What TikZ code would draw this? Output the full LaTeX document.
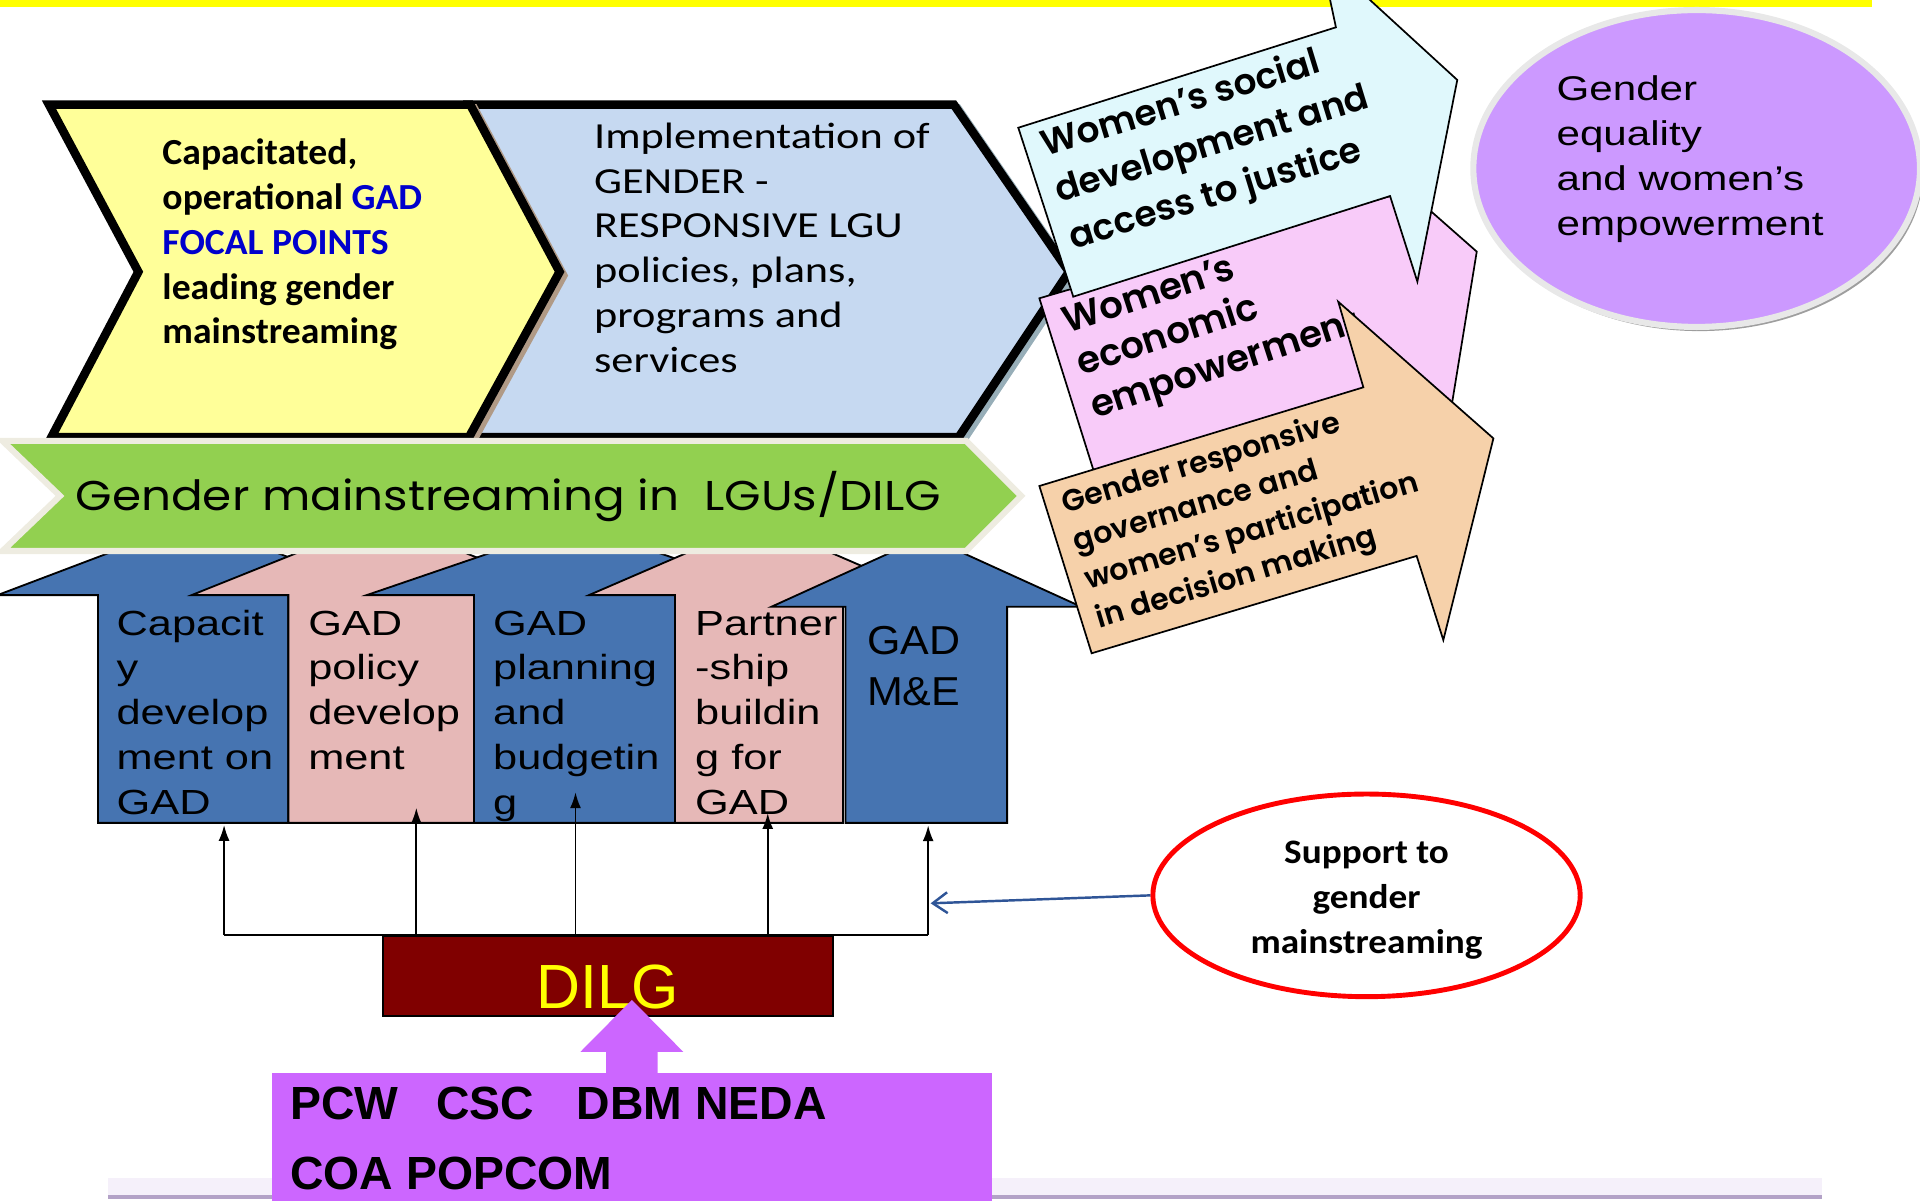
\documentclass[tikz,border=0pt]{standalone}
\usepackage{fontspec}
\usepackage{graphicx}
\usetikzlibrary{shapes.geometric,arrows.meta,calc}
\newfontfamily\carlito{Carlito}
\newfontfamily\libsans{Liberation Sans}
\newfontfamily\popp{Poppins}
\newfontfamily\poppsb{Poppins SemiBold}
\definecolor{topyellow}{HTML}{FFFF00}
\definecolor{chevyellow}{HTML}{FFFF99}
\definecolor{chevblue}{HTML}{C6D9F1}
\definecolor{yelshade}{HTML}{B09A86}
\definecolor{blueshade}{HTML}{97AEB8}
\definecolor{bandgreen}{HTML}{92D050}
\definecolor{bandedge}{HTML}{EEECE1}
\definecolor{colblue}{HTML}{4674B1}
\definecolor{colpink}{HTML}{E6B8B7}
\definecolor{gadblue}{HTML}{0000CC}
\definecolor{cyanfill}{HTML}{E0F8FC}
\definecolor{pinkfill}{HTML}{F8CBF9}
\definecolor{orangefill}{HTML}{F6D1AA}
\definecolor{goalfill}{HTML}{CC99FF}
\definecolor{goalrim}{HTML}{E8E8E8}
\definecolor{goalshade}{HTML}{9E9E9E}
\definecolor{dilgred}{HTML}{800000}
\definecolor{dilgyellow}{HTML}{FFFF00}
\definecolor{pcwpurple}{HTML}{CC66FF}
\definecolor{suppblue}{HTML}{2F5597}
\definecolor{bottomline}{HTML}{B3A2C7}
\definecolor{bottomhaze}{HTML}{F5F0FA}
\newcommand\ffY{\carlito\bfseries\fontsize{30}{36.5}\selectfont}
\newcommand\ffB{\carlito\fontsize{30}{36.6}\selectfont}
\newcommand\ffC{\libsans\fontsize{28.5}{36.7}\selectfont}
\newcommand\ffV{\libsans\fontsize{33}{41.4}\selectfont}
\newcommand\ffG{\popp\fontsize{34}{40}\selectfont}
\newcommand\ffR{\poppsb\fontsize{28}{36}\selectfont}
\newcommand\ffE{\libsans\fontsize{28}{36.6}\selectfont}
\newcommand\ffS{\carlito\bfseries\fontsize{28}{36.7}\selectfont}
\newcommand\ffD{\libsans\fontsize{51}{51}\selectfont}
\newcommand\ffP{\libsans\bfseries\fontsize{38}{57.2}\selectfont}
\newsavebox\fitbox
\newlength\fitlen
\newcommand\fitratio[3]{\sbox\fitbox{#3}\setlength\fitlen{\wd\fitbox}\pgfmathsetmacro#1{#2/\fitlen}}
\newcommand\tlines[2]{\vtop{\baselineskip=#1\lineskiplimit=-\maxdimen\halign{##\hfil\cr#2\crcr}}}
\newcommand\tlinesc[2]{\vtop{\baselineskip=#1\lineskiplimit=-\maxdimen\halign{\hfil##\hfil\cr#2\crcr}}}
\tikzset{
  chev/.style={draw=black, line width=7, line join=miter},
  colarrow/.style={draw=black, line width=1.5, line join=miter},
  callout/.style={draw=black, line width=1.4, line join=miter},
  txt/.style={anchor=base west, inner sep=0},
  vconn/.style={draw=black, line width=1.5, -{Latex[length=13pt,width=9pt]}},
  hconn/.style={draw=black, line width=2.2},
  suppline/.style={draw=suppblue, line width=2, -{Straight Barb[length=12pt,width=17pt]}},
}
\begin{document}
\fitratio\rY{212}{\ffY operational GAD}%
\fitratio\rB{274}{\ffB Implementation of}%
\fitratio\rC{124}{\ffC develop}%
\fitratio\rV{76}{\ffV GAD}%
\fitratio\rG{707}{\ffG Gender mainstreaming in~ LGUs/DILG}%
\fitratio\rE{218}{\ffE empowerment}%
\fitratio\rS{189.5}{\ffS mainstreaming}%
\fitratio\rD{116}{\ffD DILG}%
\fitratio\rP{438}{\ffP PCW\hspace{31pt}CSC\hspace{35pt}DBM NEDA}%
\fitratio\sC{266}{\ffR development and}%
\fitratio\sPk{154}{\ffR economic}%
\fitratio\sO{283}{\ffR women’s participation}%
\pgfmathsetmacro\bsC{39.5/\sC}%
\pgfmathsetmacro\bsP{36.6/\sPk}%
\pgfmathsetmacro\bsO{32.6/\sO}%
\begin{tikzpicture}[x=1pt,y=-1pt]
\useasboundingbox (0,0) rectangle (1568,980);

% top and bottom bands
\fill[topyellow] (0,0) rectangle (1528.5,5.4);
\fill[bottomhaze] (88,962) rectangle (1488,976);
\draw[bottomline, line width=3] (88,977.5) -- (1488,977.5);

% chevrons
\draw[chev, draw=blueshade, fill=blueshade, shift={(3,3)}] (384,85.5) -- (779,85.5) -- (873,222) -- (783,357) -- (383,357) -- (457,222) -- cycle;
\draw[chev, fill=chevblue] (384,85.5) -- (779,85.5) -- (873,222) -- (783,357) -- (383,357) -- (457,222) -- cycle;
\draw[chev, draw=yelshade, fill=yelshade, shift={(3,3)}] (40,85.5) -- (384,85.5) -- (457,222) -- (383,357) -- (42,357) -- (113,222) -- cycle;
\draw[chev, fill=chevyellow] (40,85.5) -- (384,85.5) -- (457,222) -- (383,357) -- (42,357) -- (113,222) -- cycle;

% column up-arrows
\draw[colarrow, fill=colblue] (-2,486) -- (80,486) -- (80,672) -- (235.5,672) -- (235.5,486) -- (317.4,486) -- (157.7,425.5) -- cycle;
\draw[colarrow, fill=colpink] (156.5,486) -- (235.5,486) -- (235.5,672) -- (387.1,672) -- (387.1,486) -- (466.1,486) -- (311.3,424) -- cycle;
\draw[colarrow, fill=colblue] (299.5,486) -- (387.1,486) -- (387.1,672) -- (551.2,672) -- (551.2,486) -- (638.9,486) -- (469.2,428) -- cycle;
\draw[colarrow, fill=colpink] (481,486) -- (551.2,486) -- (551.2,672) -- (688.5,672) -- (688.5,486) -- (758.8,486) -- (619.9,426) -- cycle;
\draw[colarrow, fill=colblue] (630,495.5) -- (690.5,495.5) -- (690.5,672) -- (822.5,672) -- (822.5,495.5) -- (883,495.5) -- (756.5,438) -- cycle;

% green band
\draw[line width=5, draw=bandedge, fill=bandgreen, line join=miter] (2,360) -- (789,360) -- (834,405) -- (789,450) -- (2,450) -- (49,405) -- cycle;

% right-hand callout arrows
\draw[callout, fill=pinkfill] (848.8,243.6) -- (1135.2,160.1) -- (1128.5,137.2) -- (1206,205.5) -- (1180,365) -- (1150,307) -- (893,384) -- cycle;
\node[txt, font=\ffR, scale=\sPk, rotate=18] (pinktxt) at (871.5,272.2) {\tlines{\bsP pt}{Women’s\cr economic\cr empowerment}};
\draw[callout, fill=cyanfill] (831.6,104.3) -- (1091,22.3) -- (1082,-20) -- (1097,-20) -- (1190.1,65.3) -- (1157.5,230) -- (1135.2,160.1) -- (876.5,242.3) -- cycle;
\node[txt, font=\ffR, scale=\sC, rotate=17] (cyantxt) at (853.5,128) {\tlines{\bsC pt}{Women’s social\cr development and\cr access to justice}};
\draw[callout, fill=orangefill] (848.8,396.9) -- (1113.4,316.3) -- (1092.9,246.4) -- (1219.6,358) -- (1178.7,522.7) -- (1156.9,454) -- (891.5,533.5) -- cycle;
\node[txt, font=\ffR, scale=\sO, rotate=16.6] (orangetxt) at (870,419.2) {\tlines{\bsO pt}{Gender responsive\cr governance and\cr women’s participation\cr in decision making}};

% chevron texts
\node[txt, font=\ffY, xscale=\rY] (ytxt) at (132.5,134.7) {\tlines{36.5pt}{Capacitated,\cr operational \textcolor{gadblue}{GAD}\cr \textcolor{gadblue}{FOCAL POINTS}\cr leading gender\cr mainstreaming}};
\node[txt, font=\ffB, xscale=\rB] (btxt) at (485,121.1) {\tlines{36.6pt}{Implementation of\cr GENDER -\cr RESPONSIVE LGU\cr policies, plans,\cr programs and\cr services}};
\node[txt, font=\ffG, xscale=\rG] (gmtxt) at (61.5,416.5) {Gender mainstreaming in~ LGUs/DILG};

% column texts
\node[txt, font=\ffC, xscale=\rC] (c1) at (95,518.6) {\tlines{36.7pt}{Capacit\cr y\cr develop\cr ment on\cr GAD}};
\node[txt, font=\ffC, xscale=\rC] (c2) at (251.5,518.6) {\tlines{36.7pt}{GAD\cr policy\cr develop\cr ment}};
\node[txt, font=\ffC, xscale=\rC] (c3) at (402.5,518.6) {\tlines{36.7pt}{GAD\cr planning\cr and\cr budgetin\cr g}};
\node[txt, font=\ffC, xscale=\rC] (c4) at (567.5,518.6) {\tlines{36.7pt}{Partner\cr -ship\cr buildin\cr g for\cr GAD}};
\node[txt, font=\ffV, xscale=\rV] (c5) at (708,534.9) {\tlines{41.4pt}{GAD\cr M\&E}};

% goal ellipse
\node[ellipse, fill=goalshade, minimum width=364.8pt, minimum height=258.8pt, inner sep=0] (goalshadow) at (1388,141) {};
\node[ellipse, draw=goalrim, line width=5, fill=goalfill, minimum width=364.8pt, minimum height=258.8pt, inner sep=0] (goal) at (1385.6,137.6) {};
\node[txt, font=\ffE, xscale=\rE] (goaltxt) at (1271,82.2) {\tlines{36.6pt}{Gender\cr equality\cr and women’s\cr empowerment}};

% DILG and supporting agencies
\node[draw=black, line width=1.5, fill=dilgred, inner sep=0, minimum width=367pt, text height=59.1pt, text depth=6.2pt, anchor=base, text=dilgyellow, font=\ffD] (dilg) at (496.5,823.5) {\scalebox{\rD}[1]{DILG}};
\node[fill=pcwpurple, inner sep=0, minimum width=588pt, minimum height=114pt] (pcw) at (516,933) {};
\fill[pcwpurple] (495,877) -- (495,859) -- (474,859) -- (516,816.6) -- (558,859) -- (537,859) -- (537,877) -- cycle;
\node[txt, font=\ffP, xscale=\rP] (pcwtxt) at (237,914.6) {\tlines{57.2pt}{PCW\hspace{31pt}CSC\hspace{35pt}DBM NEDA\cr COA POPCOM}};

% connectors from DILG to the columns
\coordinate (t1) at (183,673.7);
\coordinate (t2) at (340,659.7);
\coordinate (t3) at (470,647);
\coordinate (t4) at (627,664);
\coordinate (t5) at (758,674);
\draw[hconn] (t1 |- dilg.north) -- (t5 |- dilg.north);
\foreach \i in {1,...,5} \draw[vconn] (t\i |- dilg.north) -- (t\i);

% support ellipse
\node[ellipse, draw=red, line width=4, fill=white, minimum width=349pt, minimum height=165.5pt, inner sep=0] (support) at (1116,731.2) {};
\node[anchor=base, inner sep=0, font=\ffS, xscale=\rS] (supptxt) at (1116,705.1) {\tlinesc{36.7pt}{Support to\cr gender\cr mainstreaming}};
\coordinate (s5) at (760,737.7);
\draw[suppline] (support.west) -- (s5);
\end{tikzpicture}
\end{document}
